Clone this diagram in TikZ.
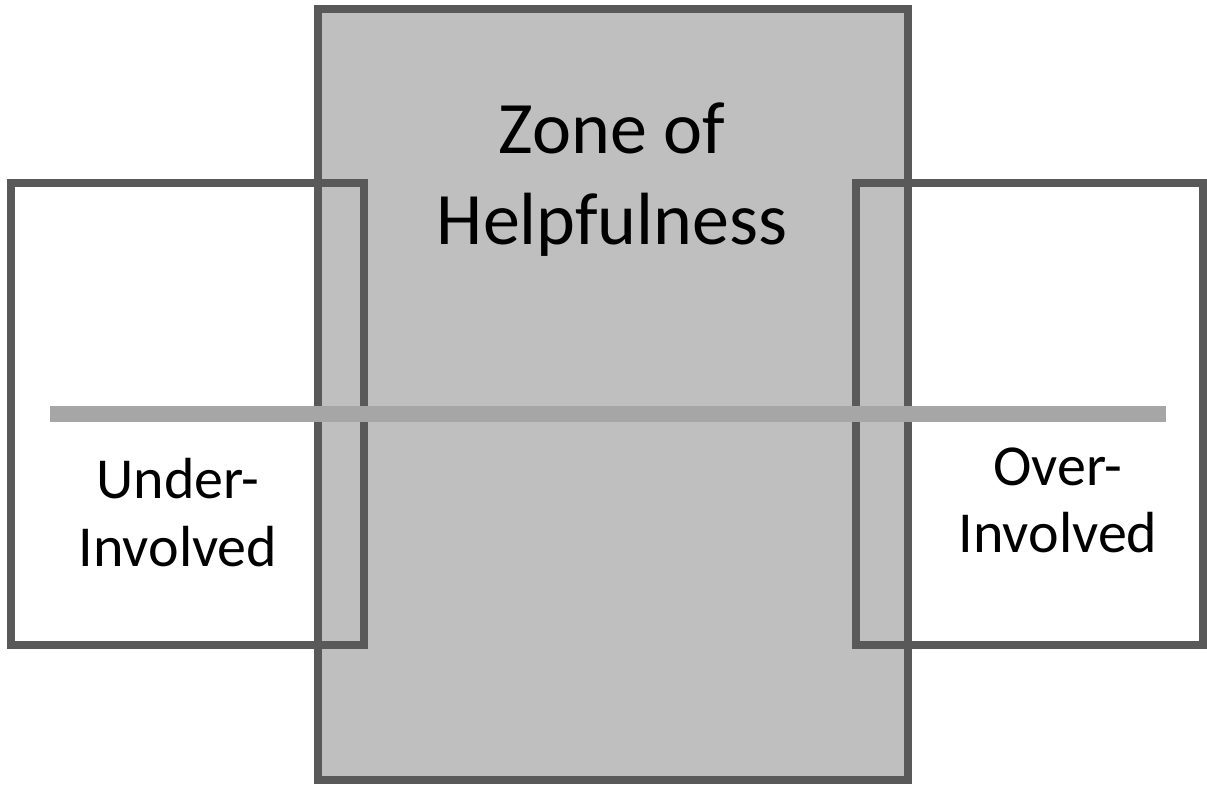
\documentclass[tikz,border=0pt]{standalone}
\usepackage{fontspec}
\setmainfont{Carlito}
\definecolor{edgegray}{HTML}{595959}
\definecolor{zonegray}{HTML}{BFBFBF}
\definecolor{axisgray}{HTML}{A6A6A6}
\begin{document}
\begin{tikzpicture}[x=1pt,y=-1pt,
  frame/.style={draw=edgegray,line width=8pt,line join=miter},
  title/.style={font=\fontsize{74}{90}\selectfont,anchor=base,inner sep=0pt},
  side/.style={font=\fontsize{58}{68}\selectfont,anchor=base,inner sep=0pt}]
\useasboundingbox (0,0) rectangle (1207,785);
\fill[white] (0,0) rectangle (1207,785);
\draw[frame,fill=zonegray] (317.5,9) rectangle (908,780);
\draw[frame] (11,182.5) rectangle (364,645);
\draw[frame] (856,182.5) rectangle (1203,645);
\coordinate (axL) at (50,414);
\coordinate (axR) at (1166,414);
\draw[axisgray,line width=16pt] (axL) -- (axR);
\node[title] (z1) at (612,153) {Zone of};
\node[title] (z2) at (612,244) {Helpfulness};
\node[side] (u1) at (178,498) {Under-};
\node[side] (u2) at (178,566) {Involved};
\node[side] (o1) at (1058,485) {Over-};
\node[side] (o2) at (1058,552) {Involved};
\end{tikzpicture}
\end{document}
